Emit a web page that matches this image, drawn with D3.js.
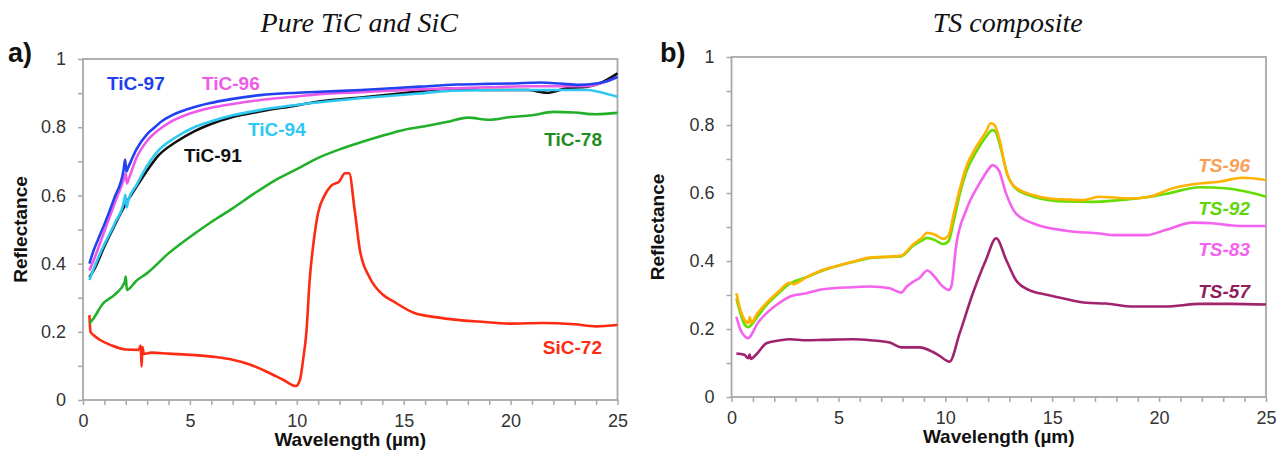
<!DOCTYPE html>
<html>
<head>
<meta charset="utf-8">
<script src="https://cdn.jsdelivr.net/npm/d3@7"></script>
<style>
  body { margin: 0; background: #fff; }
  svg { display: block; }
</style>
</head>
<body>
<svg id="chart" width="1286" height="461"></svg>
<script>
// Panel a) pure TiC and SiC, reflectance vs wavelength [µm, R]
const tic97 = [[0.3,0.40],[0.45,0.43],[0.7,0.47],[1.0,0.515],[1.45,0.59],[1.9,0.675],[1.97,0.705],[2.03,0.67],[2.1,0.68],[2.5,0.735],[3.0,0.78],[3.3,0.797],[3.7,0.818],[4.2,0.836],[5.0,0.855],[5.9,0.87],[7.0,0.883],[8.3,0.894],[10,0.901],[11.1,0.904],[13,0.909],[15.75,0.919],[17.5,0.925],[18.9,0.927],[20,0.928],[21.4,0.931],[22.3,0.928],[23.2,0.924],[24.0,0.928],[24.5,0.935],[25,0.948]]
const tic96 = [[0.3,0.38],[0.5,0.41],[1.0,0.495],[1.5,0.58],[1.95,0.655],[2.0,0.665],[2.05,0.635],[2.15,0.65],[2.5,0.71],[3.0,0.76],[3.5,0.79],[4.0,0.812],[5.0,0.84],[6.0,0.857],[7,0.868],[8.3,0.88],[10,0.89],[11.1,0.897],[13,0.903],[15.75,0.911],[18.9,0.917],[21,0.92],[23.5,0.92],[24.3,0.93],[25,0.946]]
const tic94 = [[0.3,0.352],[0.5,0.385],[0.95,0.45],[1.5,0.52],[1.93,0.585],[1.98,0.602],[2.04,0.565],[2.12,0.585],[2.5,0.63],[2.97,0.684],[3.5,0.73],[4.38,0.772],[5.2,0.8],[5.93,0.816],[7,0.835],[8.27,0.85],[10.6,0.87],[12.94,0.885],[15.75,0.899],[17.3,0.907],[20,0.909],[23.6,0.909],[24.1,0.904],[25,0.889]]
const tic91 = [[0.3,0.36],[0.5,0.38],[1.0,0.45],[1.5,0.515],[2.0,0.575],[2.5,0.625],[2.97,0.67],[3.5,0.715],[4.38,0.758],[5.2,0.788],[5.93,0.808],[7,0.83],[8.27,0.846],[10,0.864],[11.1,0.876],[13,0.887],[15.75,0.905],[17.3,0.914],[18.9,0.909],[20.8,0.909],[21.7,0.901],[22.6,0.914],[23.6,0.919],[24.1,0.927],[25,0.958]]
const tic78 = [[0.3,0.225],[0.5,0.24],[0.9,0.28],[1.5,0.31],[1.95,0.345],[2.0,0.362],[2.05,0.323],[2.5,0.35],[3,0.372],[4,0.43],[5,0.478],[6,0.522],[7,0.562],[8,0.605],[9,0.645],[10,0.677],[11,0.71],[12,0.735],[13,0.756],[14,0.775],[15,0.792],[16,0.803],[17,0.815],[18,0.828],[19,0.822],[20,0.83],[21,0.835],[22,0.845],[23,0.843],[24,0.838],[25,0.842]]
const sic72 = [[0.3,0.249],[0.35,0.2],[0.5,0.19],[0.8,0.176],[1.3,0.161],[2.0,0.148],[2.6,0.147],[2.7,0.16],[2.74,0.098],[2.78,0.155],[2.85,0.135],[3.2,0.139],[4,0.136],[5.15,0.132],[6.2,0.126],[7.0,0.118],[7.8,0.104],[8.6,0.083],[9.4,0.058],[9.95,0.041],[10.15,0.06],[10.3,0.12],[10.45,0.2],[10.6,0.35],[10.8,0.47],[11.0,0.55],[11.3,0.6],[11.6,0.628],[12.0,0.642],[12.25,0.665],[12.45,0.665],[12.7,0.56],[12.95,0.44],[13.4,0.36],[14,0.31],[14.5,0.29],[15.5,0.255],[16.5,0.243],[17.5,0.235],[18.5,0.23],[20,0.224],[21.5,0.226],[23,0.222],[24,0.216],[25,0.22]]

// Panel b) TS composites
const ts96 = [[0.23,0.305],[0.4,0.26],[0.6,0.228],[0.78,0.217],[0.85,0.235],[0.92,0.218],[1.2,0.245],[1.63,0.276],[2.2,0.31],[2.72,0.336],[2.9,0.332],[3.5,0.352],[4.28,0.374],[5.0,0.387],[5.68,0.398],[6.46,0.41],[7.4,0.413],[7.9,0.415],[8.5,0.449],[8.9,0.468],[9.15,0.483],[9.5,0.478],[9.9,0.465],[10.15,0.475],[10.4,0.54],[10.67,0.609],[11.0,0.68],[11.45,0.736],[11.9,0.78],[12.13,0.805],[12.3,0.8],[12.54,0.756],[12.84,0.668],[13.23,0.619],[14.1,0.594],[14.86,0.584],[15.65,0.581],[16.43,0.579],[17.2,0.589],[18,0.586],[18.8,0.584],[19.55,0.589],[20.64,0.614],[21.88,0.628],[22.8,0.633],[23.9,0.645],[25,0.638]]
const ts92 = [[0.23,0.29],[0.4,0.25],[0.6,0.215],[0.78,0.205],[0.9,0.21],[1.2,0.235],[1.63,0.27],[2.2,0.305],[2.72,0.333],[3.5,0.352],[4.28,0.372],[5.0,0.386],[5.68,0.397],[6.46,0.408],[7.4,0.412],[7.9,0.413],[8.5,0.445],[8.9,0.46],[9.15,0.468],[9.5,0.462],[9.9,0.45],[10.15,0.458],[10.4,0.52],[10.67,0.595],[11.0,0.665],[11.45,0.722],[11.9,0.765],[12.2,0.785],[12.35,0.78],[12.6,0.73],[12.9,0.655],[13.3,0.613],[14.1,0.59],[14.86,0.579],[15.65,0.575],[16.9,0.574],[18,0.578],[18.8,0.583],[19.5,0.588],[20.3,0.597],[21.9,0.617],[23.1,0.614],[24,0.605],[25,0.589]]
const ts83 = [[0.23,0.236],[0.4,0.2],[0.6,0.18],[0.78,0.173],[0.95,0.185],[1.2,0.215],[1.63,0.246],[2.2,0.275],[2.72,0.295],[3.5,0.305],[4.28,0.317],[5.68,0.323],[6.5,0.325],[7.4,0.32],[7.93,0.307],[8.2,0.325],[8.5,0.339],[8.8,0.35],[9.15,0.372],[9.5,0.354],[9.8,0.33],[10.17,0.315],[10.3,0.33],[10.5,0.442],[10.98,0.55],[11.6,0.628],[12.0,0.668],[12.2,0.682],[12.5,0.667],[12.84,0.599],[13.3,0.54],[14.1,0.511],[15.65,0.489],[17.2,0.481],[17.96,0.476],[19.4,0.476],[20.3,0.491],[21.57,0.513],[22.5,0.511],[23.7,0.503],[25,0.503]]
const ts57 = [[0.23,0.128],[0.6,0.124],[0.78,0.114],[0.85,0.125],[0.9,0.112],[1.2,0.128],[1.63,0.158],[2.2,0.166],[2.72,0.17],[3.5,0.167],[4.28,0.168],[5.68,0.17],[6.5,0.167],[7.4,0.16],[7.95,0.146],[8.8,0.146],[9.4,0.133],[9.73,0.121],[10.2,0.104],[10.67,0.187],[11.29,0.305],[11.9,0.403],[12.38,0.467],[12.85,0.403],[13.3,0.344],[13.9,0.315],[14.8,0.3],[15.65,0.288],[16.6,0.277],[17.5,0.275],[18.8,0.266],[20.3,0.266],[21.9,0.274],[23.4,0.274],[25,0.272]]

const yTicks = d3.range(0, 11).map(i => i / 10)
const xTicks = d3.range(0, 26)

const svg = d3.select('#chart')
const font = "'Liberation Sans', Arial, sans-serif"

// Draws one panel: frame, axes, curves and their labels
const drawPanel = (opts) => {
  const x = d3.scaleLinear().domain([0, 25]).range([opts.left, opts.right])
  const y = d3.scaleLinear().domain([0, 1]).range([opts.bottom, opts.top])
  const g = svg.append('g')

  const yAxis = d3.axisLeft(y)
    .tickValues(yTicks)
    .tickSize(5)
    .tickPadding(12)
    .tickFormat(d => (Math.round(d * 10) % 2 === 0 ? d3.format('~g')(d) : ''))
  const xAxis = d3.axisBottom(x)
    .tickValues(xTicks)
    .tickSize(5)
    .tickPadding(9)
    .tickFormat(d => (d % 5 === 0 ? d : ''))

  g.append('g').attr('transform', `translate(${opts.left},0)`).call(yAxis)
  g.append('g').attr('transform', `translate(0,${opts.bottom})`).call(xAxis)

  g.selectAll('.domain').remove()
  g.selectAll('.tick line').attr('stroke', '#a8a8a8').attr('stroke-width', 1.5)
  g.selectAll('.tick text')
    .attr('font-family', font)
    .attr('font-size', 18)
    .attr('fill', '#333')

  g.append('rect')
    .attr('x', opts.left)
    .attr('y', opts.top)
    .attr('width', opts.right - opts.left)
    .attr('height', opts.bottom - opts.top)
    .attr('fill', 'none')
    .attr('stroke', '#a8a8a8')
    .attr('stroke-width', 1.8)

  const line = d3.line()
    .x(d => x(d[0]))
    .y(d => y(d[1]))
    .curve(d3.curveMonotoneX)

  g.selectAll('path.curve')
    .data(opts.series)
    .join('path')
    .attr('class', 'curve')
    .attr('d', d => line(d.values))
    .attr('fill', 'none')
    .attr('stroke', d => d.color)
    .attr('stroke-width', 2.6)
    .attr('stroke-linejoin', 'round')

  g.selectAll('text.lbl')
    .data(opts.labels)
    .join('text')
    .attr('class', 'lbl')
    .attr('x', d => d.x)
    .attr('y', d => d.y)
    .attr('text-anchor', d => d.anchor || 'start')
    .attr('font-family', font)
    .attr('font-size', 19)
    .attr('font-weight', 'bold')
    .attr('font-style', opts.italicLabels ? 'italic' : 'normal')
    .attr('fill', d => d.color)
    .text(d => d.text)

  // axis titles
  g.append('text')
    .attr('x', (opts.left + opts.right) / 2)
    .attr('y', opts.bottom + 46)
    .attr('text-anchor', 'middle')
    .attr('font-family', font)
    .attr('font-size', 19)
    .attr('font-weight', 'bold')
    .attr('fill', '#111')
    .text('Wavelength (µm)')

  g.append('text')
    .attr('transform', `translate(${opts.left - opts.yTitleGap},${(opts.top + opts.bottom) / 2}) rotate(-90)`)
    .attr('text-anchor', 'middle')
    .attr('font-family', font)
    .attr('font-size', 19)
    .attr('font-weight', 'bold')
    .attr('fill', '#111')
    .text('Reflectance')

  g.append('text')
    .attr('x', (opts.left + opts.right) / 2 + 9)
    .attr('y', 32)
    .attr('text-anchor', 'middle')
    .attr('font-family', "'Liberation Serif', serif")
    .attr('font-size', 28)
    .attr('font-style', 'italic')
    .attr('fill', '#111')
    .text(opts.title)

  g.append('text')
    .attr('x', opts.tagX)
    .attr('y', 62)
    .attr('font-family', font)
    .attr('font-size', 27)
    .attr('font-weight', 'bold')
    .attr('fill', '#111')
    .text(opts.tag)
}

drawPanel({
  left: 83, right: 617.5, top: 59, bottom: 400,
  title: 'Pure TiC and SiC', tag: 'a)', tagX: 8, yTitleGap: 56,
  series: [
    { values: sic72, color: '#ff2a12' },
    { values: tic78, color: '#22b02a' },
    { values: tic91, color: '#111111' },
    { values: tic94, color: '#2ec8f2' },
    { values: tic96, color: '#ee5ae8' },
    { values: tic97, color: '#2242f0' }
  ],
  labels: [
    { text: 'TiC-97', x: 107, y: 90, color: '#1f3ff0' },
    { text: 'TiC-96', x: 202, y: 90, color: '#f05ae8' },
    { text: 'TiC-94', x: 248, y: 136, color: '#2ec8f2' },
    { text: 'TiC-91', x: 184, y: 162, color: '#111111' },
    { text: 'TiC-78', x: 602, y: 146, color: '#1f8c1f', anchor: 'end' },
    { text: 'SiC-72', x: 602, y: 354, color: '#ff2a12', anchor: 'end' }
  ]
})

drawPanel({
  left: 731.5, right: 1266, top: 57, bottom: 397,
  title: 'TS composite', tag: 'b)', tagX: 660, yTitleGap: 68,
  italicLabels: true,
  series: [
    { values: ts57, color: '#a0236e' },
    { values: ts83, color: '#f462ee' },
    { values: ts92, color: '#66dd00' },
    { values: ts96, color: '#ffb300' }
  ],
  labels: [
    { text: 'TS-96', x: 1250, y: 172, color: '#f8a05a', anchor: 'end' },
    { text: 'TS-92', x: 1250, y: 215, color: '#5fd60a', anchor: 'end' },
    { text: 'TS-83', x: 1250, y: 256, color: '#f462ee', anchor: 'end' },
    { text: 'TS-57', x: 1250, y: 298, color: '#8e1f5c', anchor: 'end' }
  ]
})
</script>
</body>
</html>
